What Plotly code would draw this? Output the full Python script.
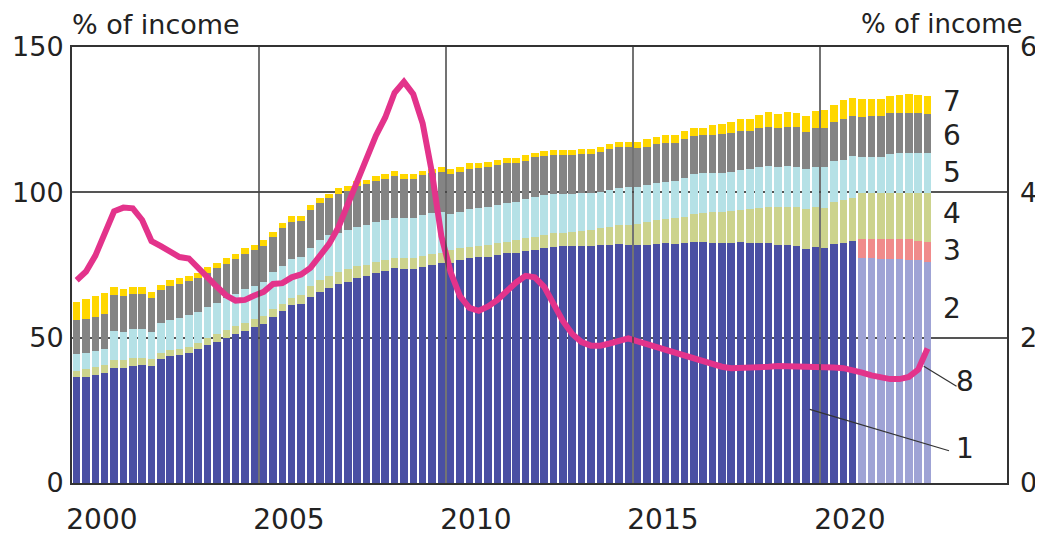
import plotly.graph_objects as go

# ---------------- data ----------------
years = list(range(2000, 2023))
quarters = [f"{y}Q{q}" for y in years for q in (1, 2, 3, 4)]

# 1: dark blue (to 2020Q4)
series_1 = [
    36.3, 36.6, 37.3, 37.9, 39.6, 39.7, 40.4, 40.6, 40.2, 42.5,
    43.7, 44.0, 44.8, 46.0, 47.5, 48.6, 49.8, 51.3, 52.4, 53.6,
    54.7, 57.2, 59.3, 61.1, 61.6, 63.9, 65.8, 67.0, 68.3, 69.3,
    70.4, 71.2, 72.1, 73.0, 73.8, 73.5, 73.6, 74.4, 75.0, 75.6,
    75.6, 76.7, 77.3, 77.6, 77.9, 78.4, 79.0, 79.2, 79.8, 80.1,
    80.7, 81.3, 81.5, 81.5, 81.5, 81.6, 81.9, 81.9, 82.1, 81.9,
    81.9, 81.9, 82.1, 82.4, 82.2, 82.4, 82.9, 82.9, 82.7, 82.4,
    82.4, 82.8, 82.4, 82.4, 82.4, 81.9, 81.9, 81.5, 80.4, 81.3,
    80.7, 82.2, 82.7, 83.4,
    None, None, None, None, None, None, None, None,
]
# 2: light purple (from 2021Q1)
series_2 = [None] * 84 + [77.3, 77.3, 77.1, 76.9, 76.9, 76.7, 76.7, 76.1]
# 3: salmon (from 2021Q1)
series_3 = [None] * 84 + [6.5, 6.5, 6.7, 6.9, 6.9, 7.1, 6.7, 6.9]
# 4: yellow-green
series_4 = [
    2.3, 2.5, 2.5, 2.6, 2.7, 2.6, 2.5, 2.3, 2.3, 2.1,
    2.1, 2.0, 2.1, 2.0, 2.3, 2.5, 2.8, 2.7, 2.8, 2.7,
    2.7, 2.5, 2.2, 2.4, 3.1, 3.9, 4.0, 4.2, 4.4, 4.2,
    4.2, 3.8, 4.0, 3.7, 3.7, 3.8, 3.9, 3.8, 3.8, 3.6,
    4.5, 4.0, 4.0, 3.9, 4.0, 4.0, 4.0, 4.4, 4.4, 4.6,
    4.6, 4.6, 4.6, 5.0, 5.2, 5.4, 5.7, 6.3, 6.6, 6.8,
    7.2, 8.0, 8.4, 8.3, 8.8, 9.2, 9.6, 10.1, 10.6, 10.9,
    11.2, 11.1, 11.7, 12.1, 12.7, 13.2, 13.2, 13.3, 13.7, 13.5,
    13.8, 14.6, 14.7, 14.5,
    16.0, 16.0, 16.0, 16.0, 16.0, 16.0, 16.4, 16.8,
]
# 5: light cyan
series_5 = [
    5.8, 5.5, 5.5, 5.7, 10.1, 9.8, 10.1, 10.1, 9.6, 10.3,
    10.3, 10.6, 10.9, 10.9, 10.9, 10.7, 10.9, 11.0, 11.4, 11.5,
    11.9, 13.0, 13.2, 13.5, 13.2, 12.9, 13.8, 14.1, 13.2, 13.5,
    13.6, 13.7, 13.8, 13.8, 13.5, 13.7, 13.8, 14.0, 14.0, 14.1,
    12.4, 12.6, 12.8, 13.0, 12.9, 13.2, 13.2, 13.2, 13.4, 13.8,
    13.8, 13.7, 13.5, 13.1, 13.2, 12.9, 12.6, 12.6, 12.7, 13.0,
    12.6, 12.6, 12.6, 13.0, 13.0, 13.2, 13.8, 13.5, 13.4, 13.4,
    13.5, 13.8, 13.8, 14.1, 14.0, 13.7, 14.0, 14.0, 13.8, 14.0,
    14.1, 14.0, 13.7, 14.6,
    12.2, 12.5, 12.2, 13.4, 13.8, 13.8, 13.8, 13.6,
]
# 6: grey
series_6 = [
    11.7, 11.7, 11.9, 11.9, 12.3, 12.2, 12.0, 12.0, 11.4, 11.5,
    11.7, 11.7, 11.7, 11.7, 11.6, 12.0, 11.8, 11.9, 12.2, 12.4,
    12.2, 12.0, 12.9, 12.9, 12.3, 13.2, 12.6, 12.6, 13.7, 13.6,
    14.0, 14.0, 14.0, 14.2, 14.6, 13.7, 13.4, 13.6, 13.7, 13.8,
    13.7, 13.8, 14.1, 14.0, 14.0, 13.8, 13.8, 13.2, 13.3, 13.5,
    13.4, 13.2, 13.2, 13.2, 13.3, 13.3, 13.8, 14.2, 14.1, 13.8,
    13.4, 13.2, 13.5, 13.4, 13.1, 13.4, 13.1, 13.1, 13.1, 13.4,
    13.4, 13.5, 13.3, 13.4, 13.5, 13.5, 13.5, 13.8, 12.8, 13.2,
    13.4, 13.5, 14.3, 13.7,
    14.0, 13.9, 14.2, 14.0, 13.8, 13.8, 13.6, 13.5,
]
# 7: yellow
series_7 = [
    6.3, 6.9, 7.1, 7.1, 2.6, 2.6, 2.3, 2.3, 2.3, 1.8,
    2.0, 2.1, 1.7, 1.7, 1.9, 1.8, 2.0, 1.9, 1.9, 1.7,
    2.1, 1.5, 1.7, 1.9, 1.8, 1.7, 1.7, 1.7, 1.8, 1.6,
    1.7, 1.5, 1.7, 1.6, 1.8, 1.6, 1.6, 1.6, 1.7, 1.5,
    1.7, 1.7, 2.0, 1.7, 1.7, 1.7, 1.7, 1.7, 1.8, 1.6,
    1.7, 1.7, 1.7, 1.7, 1.6, 1.6, 1.7, 1.6, 1.8, 1.8,
    2.3, 2.5, 2.3, 2.5, 2.5, 2.8, 2.9, 2.7, 3.2, 3.4,
    3.7, 3.9, 4.1, 4.5, 5.0, 4.6, 5.0, 4.8, 5.5, 6.1,
    6.3, 5.7, 6.3, 6.1,
    6.0, 5.8, 5.8, 5.9, 6.1, 6.4, 6.3, 6.2,
]
# 8: line, right axis
series_8 = [
    2.79, 2.91, 3.13, 3.42, 3.74, 3.79, 3.78, 3.62, 3.33, 3.26,
    3.18, 3.11, 3.09, 2.97, 2.83, 2.70, 2.58, 2.51, 2.52, 2.58,
    2.63, 2.74, 2.75, 2.83, 2.87, 2.96, 3.11, 3.29, 3.52, 3.83,
    4.17, 4.49, 4.78, 5.03, 5.37, 5.52, 5.35, 4.95, 4.27, 3.40,
    2.90, 2.57, 2.41, 2.37, 2.43, 2.52, 2.64, 2.76, 2.85, 2.83,
    2.70, 2.45, 2.23, 2.05, 1.94, 1.89, 1.89, 1.92, 1.96, 1.99,
    1.95, 1.91, 1.88, 1.84, 1.80, 1.76, 1.71, 1.67, 1.64, 1.60,
    1.58, 1.58, 1.59, 1.59, 1.60, 1.61, 1.61, 1.61, 1.60, 1.59,
    1.60, 1.59, 1.58, 1.56,
    1.52, 1.48, 1.45, 1.43, 1.43, 1.46, 1.56, 1.85,
]

tick_years = [2000, 2005, 2010, 2015, 2020]
left_ticks = [0, 50, 100, 150]
right_ticks = [0, 2, 4, 6]
series_labels = ["1", "2", "3", "4", "5", "6", "7", "8"]

# ---------------- figure ----------------
xpos = [int(q[:4]) + (int(q[-1]) - 0.5) / 4 for q in quarters]

colors = {
    "1": "#4a4fa3", "2": "#9fa3d5", "3": "#f08b8b", "4": "#ccd38d",
    "5": "#b5e1e6", "6": "#848484", "7": "#ffd700", "8": "#e3338b",
}

fig = go.Figure()
for name, vals in [("1", series_1), ("2", series_2), ("3", series_3),
                   ("4", series_4), ("5", series_5), ("6", series_6),
                   ("7", series_7)]:
    fig.add_trace(go.Bar(x=xpos, y=vals, name=name, marker_color=colors[name],
                         marker_line_width=0, yaxis="y"))

fig.add_trace(go.Scatter(x=xpos, y=series_8, name="8", mode="lines",
                         line=dict(color=colors["8"], width=6),
                         yaxis="y2"))

FONT = "DejaVu Sans"
TXT = "#222222"
AX = "#333333"

# the page adds an 8px body margin, so the figure is sized 8px smaller
fig.update_layout(
    width=1035, height=529,
    margin=dict(l=64, r=36, t=39, b=54, autoexpand=False),
    barmode="stack", bargap=0.2,
    showlegend=False,
    plot_bgcolor="white", paper_bgcolor="white",
    font=dict(family=FONT, size=28, color=TXT),
    hovermode=False,
    xaxis=dict(range=[2000, 2025], showgrid=False, zeroline=False, automargin=False,
               tickvals=[y + 0.8 for y in tick_years],
               ticktext=[str(y) for y in tick_years],
               ticks="", showline=True, mirror=True, linecolor=AX, linewidth=2,
               tickfont=dict(size=28, color=TXT), ticklabelstandoff=10),
    yaxis=dict(range=[0, 150], tickvals=left_ticks, showgrid=True, automargin=False,
               gridcolor="#555555", gridwidth=1.5, zeroline=False,
               showline=True, mirror=True, linecolor=AX, linewidth=2,
               ticks="", tickfont=dict(size=27, color=TXT), ticklabelstandoff=1),
    yaxis2=dict(range=[0, 6], tickvals=right_ticks, overlaying="y", side="right",
                showgrid=False, zeroline=False, showline=False, ticks="", automargin=False,
                tickfont=dict(size=27, color=TXT), ticklabelstandoff=12),
)

# vertical grid lines drawn over the bars
for y in tick_years[1:]:
    fig.add_shape(type="line", xref="x", yref="paper", x0=y, x1=y, y0=0, y1=1,
                  line=dict(color="#444444", width=1.5), layer="above")

# axis titles
fig.add_annotation(text="% of income", xref="paper", yref="paper", x=-0.002, y=1.052,
                   xanchor="left", yanchor="middle", showarrow=False,
                   font=dict(size=27, color=TXT))
fig.add_annotation(text="% of income", xref="paper", yref="paper", x=1.019, y=1.052,
                   xanchor="right", yanchor="middle", showarrow=False,
                   font=dict(size=26, color=TXT))

# series number labels
label_pos = {
    "7": (0.941, 0.876), "6": (0.941, 0.796), "5": (0.941, 0.713),
    "4": (0.941, 0.617), "3": (0.941, 0.534), "2": (0.941, 0.401),
    "8": (0.955, 0.232), "1": (0.955, 0.080),
}
for lab in series_labels:
    x, y = label_pos[lab]
    fig.add_annotation(text=lab, xref="paper", yref="paper", x=x, y=y,
                       xanchor="center", yanchor="middle", showarrow=False,
                       font=dict(size=28, color=TXT))

# leader lines
fig.add_shape(type="line", xref="paper", yref="paper", x0=0.789, y0=0.169,
              x1=0.938, y1=0.074, line=dict(color="#333333", width=1.2), layer="above")
fig.add_shape(type="line", xref="paper", yref="paper", x0=0.911, y0=0.268,
              x1=0.946, y1=0.222, line=dict(color="#333333", width=1.2), layer="above")

fig.write_html("out.html")
